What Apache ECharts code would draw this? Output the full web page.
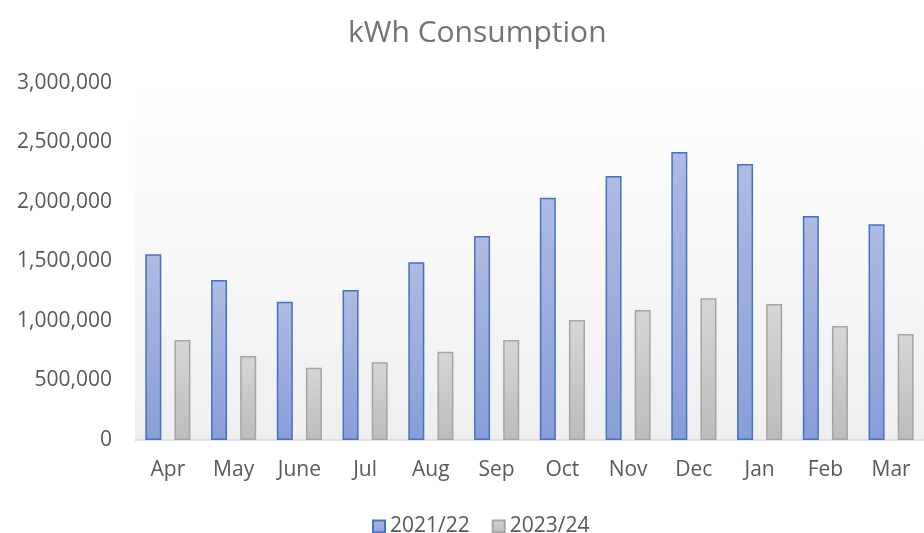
<!DOCTYPE html>
<html>
<head>
<meta charset="utf-8">
<script src="https://cdn.jsdelivr.net/npm/echarts@6/dist/echarts.min.js"></script>
<style>html,body{margin:0;padding:0;background:#fff;}#c{width:924px;height:533px;}</style>
</head>
<body>
<div id="c"></div>
<script>
const months = ['Apr','May','June','Jul','Aug','Sep','Oct','Nov','Dec','Jan','Feb','Mar'];
const series2122 = [1560000,1345000,1162000,1261000,1493000,1714000,2036000,2218000,2420000,2319000,1882000,1813000];
const series2324 = [840000,706000,608000,653000,742000,840000,1008000,1092000,1191000,1143000,958000,891000];
const yTicks = [0,500000,1000000,1500000,2000000,2500000,3000000];

const FONT = 'Open Sans';
const chart = echarts.init(document.getElementById('c'));
function grad(top, bottom){
  return new echarts.graphic.LinearGradient(0,0,0,1,[{offset:0,color:top},{offset:1,color:bottom}]);
}
chart.setOption({
  animation:false,
  backgroundColor:'#ffffff',
  title:{
    text:'kWh Consumption', left:348, top:18, padding:0,
    textStyle:{fontFamily:FONT, fontSize:30, fontWeight:'normal', color:'#737373'}
  },
  legend:{
    left:367, top:511, icon:'rect', itemWidth:12, itemHeight:12, itemGap:22,
    textStyle:{fontFamily:FONT, fontSize:21, color:'#595959'}
  },
  grid:{
    left:135, top:83, width:795, height:357, show:true, borderWidth:0,
    backgroundColor:grad('#ffffff','#efefef')
  },
  xAxis:{
    type:'category', data:months,
    axisLine:{lineStyle:{color:'#d9d9d9', width:1.5}},
    axisTick:{show:false},
    axisLabel:{fontFamily:FONT, fontSize:21, color:'#595959', margin:20}
  },
  yAxis:{
    type:'value', min:yTicks[0], max:yTicks[yTicks.length-1], interval:yTicks[1]-yTicks[0],
    splitLine:{show:false}, axisLine:{show:false}, axisTick:{show:false},
    axisLabel:{fontFamily:FONT, fontSize:21, color:'#595959', margin:23,
      formatter:v=>v.toLocaleString('en-US')}
  },
  series:[
    {name:'2021/22', type:'bar', data:series2122, barWidth:16, barGap:'82%',
     itemStyle:{color:grad('#aebbe2','#889ed8'), borderColor:'#4472c4', borderWidth:1.5}},
    {name:'2023/24', type:'bar', data:series2324, barWidth:16,
     itemStyle:{color:grad('#d6d6d6','#bcbcbc'), borderColor:'#a5a5a5', borderWidth:1.5}}
  ]
});
</script>
</body>
</html>
